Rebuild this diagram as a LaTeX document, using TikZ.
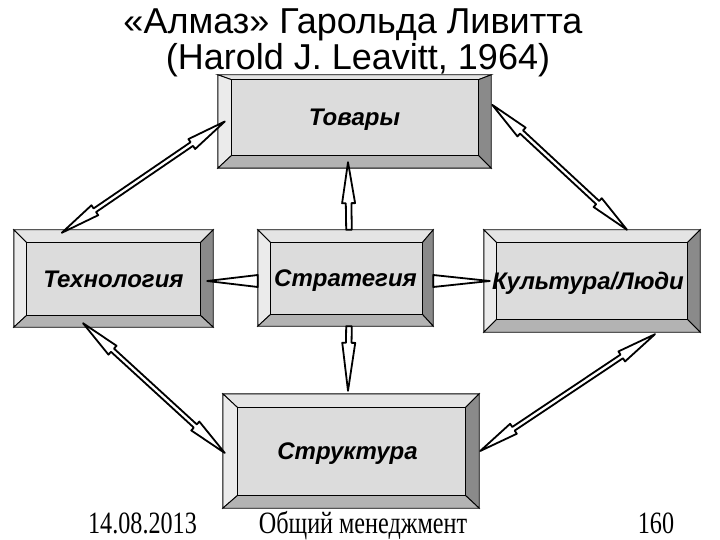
\documentclass[tikz,border=0pt]{standalone}
\usepackage{fontspec}
\setmainfont{Liberation Sans}
\newfontfamily\footface{Liberation Serif}[FakeStretch=0.78]
\usetikzlibrary{calc}
\pgfdeclarelayer{bglayer}
\pgfdeclarelayer{bevlayer}
\pgfsetlayers{bglayer,bevlayer,main}
\definecolor{bevtop}{HTML}{E4E4E4}
\definecolor{bevleft}{HTML}{EBEBEB}
\definecolor{bevright}{HTML}{8A8A8A}
\definecolor{bevbottom}{HTML}{B3B3B3}
\definecolor{bevface}{HTML}{DCDCDC}
\tikzset{
  bbox/.style={rectangle, inner sep=0pt, font=\bfseries\itshape\fontsize{24}{24}\selectfont, text=black, text height=17pt, text depth=0pt},
  bevelline/.style={draw=black, line width=0.9pt, line join=miter},
  arrline/.style={draw=black, fill=white, line width=1.8pt, line join=round},
  titletext/.style={font=\fontsize{36}{36}\selectfont, anchor=base, inner sep=0pt},
  foottext/.style={font=\footface\fontsize{31}{31}\selectfont, anchor=base, inner sep=0pt},
}
\newcommand\bevelfaces[5]{%
  \begin{pgfonlayer}{bevlayer}
    \coordinate (o1) at (#1.north west);
    \coordinate (o2) at (#1.north east);
    \coordinate (o3) at (#1.south east);
    \coordinate (o4) at (#1.south west);
    \coordinate (i1) at ($(o1)+(#2,#3)$);
    \coordinate (i2) at ($(o2)+(-#4,#3)$);
    \coordinate (i3) at ($(o3)+(-#4,-#5)$);
    \coordinate (i4) at ($(o4)+(#2,-#5)$);
    \filldraw[bevelline, fill=bevtop] (o1)--(o2)--(i2)--(i1)--cycle;
    \filldraw[bevelline, fill=bevleft] (o1)--(i1)--(i4)--(o4)--cycle;
    \filldraw[bevelline, fill=bevright] (o2)--(o3)--(i3)--(i2)--cycle;
    \filldraw[bevelline, fill=bevbottom] (o4)--(i4)--(i3)--(o3)--cycle;
    \filldraw[bevelline, fill=bevface] (i1)--(i2)--(i3)--(i4)--cycle;
  \end{pgfonlayer}}
\newcommand\dblarrow[5]{%
  \path (#1) coordinate (pA) (#2) coordinate (pB);
  \path ($(pA)!#3!(pB)$) coordinate (hA) ($(pB)!#3!(pA)$) coordinate (hB);
  \draw[arrline] (pA) -- ($(hA)!#4!90:(pB)$) -- ($(hA)!#5!90:(pB)$)
    -- ($(hB)!#5!-90:(pA)$) -- ($(hB)!#4!-90:(pA)$) -- (pB)
    -- ($(hB)!#4!90:(pA)$) -- ($(hB)!#5!90:(pA)$)
    -- ($(hA)!#5!-90:(pB)$) -- ($(hA)!#4!-90:(pB)$) -- cycle;}
\newcommand\sglarrow[5]{%
  \path (#1) coordinate (pA) (#2) coordinate (pB);
  \path ($(pB)!#3!(pA)$) coordinate (hB);
  \draw[arrline] ($(pA)!#5!90:(pB)$) -- ($(hB)!#5!-90:(pA)$) -- ($(hB)!#4!-90:(pA)$)
    -- (pB) -- ($(hB)!#4!90:(pA)$) -- ($(hB)!#5!90:(pA)$) -- ($(pA)!#5!-90:(pB)$) -- cycle;}
\newcommand\triarrow[3]{%
  \path (#1) coordinate (pA) (#2) coordinate (pB);
  \draw[arrline] ($(pA)!#3!90:(pB)$) -- (pB) -- ($(pA)!#3!-90:(pB)$) -- cycle;}
\begin{document}
\begin{tikzpicture}[x=1pt,y=-1pt]
\begin{pgfonlayer}{bglayer}
\fill[white] (0,0) rectangle (720,540);
\end{pgfonlayer}
\useasboundingbox (0,0) rectangle (720,540);
% title
\node[titletext] (t1) at (353,34) {«Алмаз» Гарольда Ливитта};
\node[titletext] (t2) at (358,70) {(Harold J. Leavitt, 1964)};
% boxes
\node[bbox, text depth=8pt, minimum width=273, minimum height=93] (tov) at (354.5,121.5) {Товары};
\bevelfaces{tov}{14}{5}{13}{13}
\node[bbox, minimum width=199, minimum height=97] (tech) at (113.5,278.5) {Технология};
\bevelfaces{tech}{13}{13}{13}{12}
\node[bbox, minimum width=175, minimum height=96] (str) at (345.5,278) {Стратегия};
\bevelfaces{str}{13}{13}{11}{12}
\node[bbox, minimum width=216, minimum height=102] (cul) at (592,281) {\kern-8pt Культура/Люди};
\bevelfaces{cul}{13}{13}{13}{13}
\node[bbox, minimum width=256, minimum height=114] (stru) at (351,451) {\kern-7pt Структура};
\bevelfaces{stru}{15}{14}{14}{13}
% connector end points
\coordinate (a1a) at ($(tech.north west)+(48,3)$);
\coordinate (a1b) at ($(tov.west)+(7,0)$);
\coordinate (a2a) at ($(tov.north east)+(1,30)$);
\coordinate (a2b) at ($(cul.north)+(35,0)$);
\coordinate (a3a) at ($(tech.south)+(-30.5,-4)$);
\coordinate (a3b) at ($(stru.west)+(2,2)$);
\coordinate (a4a) at ($(cul.south)+(63,2)$);
\coordinate (a4b) at ($(stru.east)+(1,0)$);
\coordinate (a5a) at ($(str.north)+(3.5,0)$);
\coordinate (a5b) at ($(tov.south)+(-6.5,-6)$);
\coordinate (a6a) at ($(str.south)+(3.5,0)$);
\coordinate (a6b) at ($(stru.north)+(-3,-3)$);
\coordinate (a7a) at ($(str.west)+(0,3)$);
\coordinate (a7b) at ($(tech.east)+(-6,2.5)$);
\coordinate (a8a) at ($(str.east)+(0,3)$);
\coordinate (a8b) at ($(cul.west)+(6,0)$);
% connectors
\dblarrow{a1a}{a1b}{40pt}{6pt}{2.2pt}
\dblarrow{a2a}{a2b}{40pt}{6pt}{2.2pt}
\dblarrow{a3a}{a3b}{40pt}{6pt}{2.2pt}
\dblarrow{a4a}{a4b}{40pt}{6pt}{2.2pt}
\sglarrow{a5a}{a5b}{41pt}{6.5pt}{2.8pt}
\sglarrow{a6a}{a6b}{48pt}{6.5pt}{2.8pt}
\triarrow{a7a}{a7b}{6pt}
\triarrow{a8a}{a8b}{6pt}
% footer
\node[foottext] (f1) at (142.5,533) {14.08.2013};
\node[foottext] (f2) at (363,533) {Общий менеджмент};
\node[foottext] (f3) at (656,533) {160};
\end{tikzpicture}
\end{document}
